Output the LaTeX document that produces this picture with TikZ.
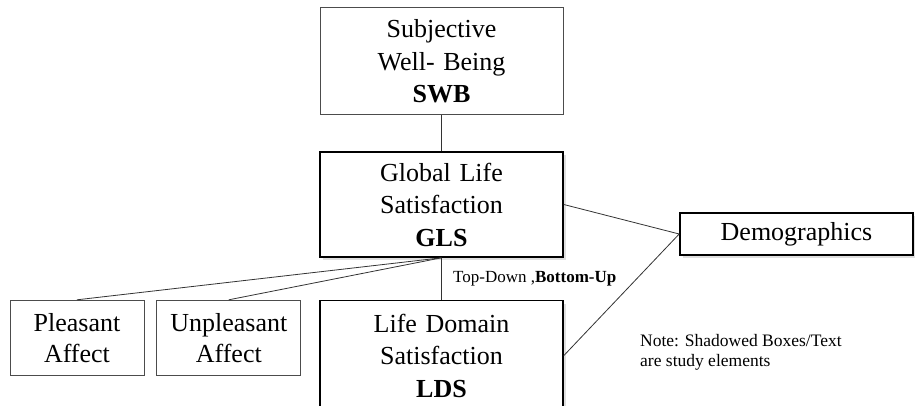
\documentclass[tikz,border=0pt]{standalone}
\usepackage{fontspec}
\setmainfont{Liberation Serif}
\usetikzlibrary{shadows,positioning,shapes}
\tikzstyle{block} = [rectangle, draw=black!70, line width=0.8pt, fill=white,
    text width=230pt, text centered, minimum width=243pt, minimum height=107pt,
    font=\fontsize{26pt}{32.5pt}\selectfont]
\tikzstyle{study} = [block, draw=black, line width=1.6pt, minimum height=105pt,
    drop shadow={shadow xshift=3pt, shadow yshift=-3pt, fill=black!25}]
\tikzstyle{affect} = [rectangle, draw=black!70, line width=0.8pt, fill=white,
    align=center, minimum height=75pt, font=\fontsize{26pt}{31pt}\selectfont]
\tikzstyle{line} = [draw, black!80, line width=0.8pt]
\tikzstyle{note} = [align=left, inner sep=0pt, font=\fontsize{17.5pt}{20pt}\selectfont]

\begin{document}
\begin{tikzpicture}[node distance = 42pt, auto]
      \useasboundingbox (0,0) rectangle (915pt,-405pt);
      \node [study] (gls) at (441.5pt,-204.5pt) {Global Life\\ Satisfaction\\ \textbf{GLS}};
      \node [block, above=36pt of gls] (swb) {Subjective\\ Well- Being\\ \textbf{SWB}};
      \node [study, minimum height=110pt, below= of gls] (lds) {Life Domain\\ Satisfaction\\ \textbf{LDS}};
      \node [affect, minimum width=144pt, left=18pt of lds.north west, anchor=north east] (unpl) {Unpleasant\\ Affect};
      \node [affect, minimum width=134pt, left=12pt of unpl] (pleas) {Pleasant\\ Affect};
      \node [study, minimum width=233pt, minimum height=42pt, text width=220pt] (demo) at (796.5pt,-234pt) {Demographics};
      \node [note, anchor=north west] (note) at (640pt,-334pt) {Note: Shadowed Boxes/Text\\ are study elements};
      % Draw edges
      \path [line] (swb) -- (gls);
      \path [line] (gls) -- (lds)
          node [midway, right=8pt, text=black, font=\fontsize{17pt}{20pt}\selectfont] (tdbu) {Top-Down ,\textbf{Bottom-Up}};
      \path [line] (gls.south) -- (pleas.north);
      \path [line] (gls.south) -- (unpl.north);
      \path [line] (gls.east) -- (demo.west);
      \path [line] (lds.east) -- (demo.west);
  \end{tikzpicture}
\end{document}
